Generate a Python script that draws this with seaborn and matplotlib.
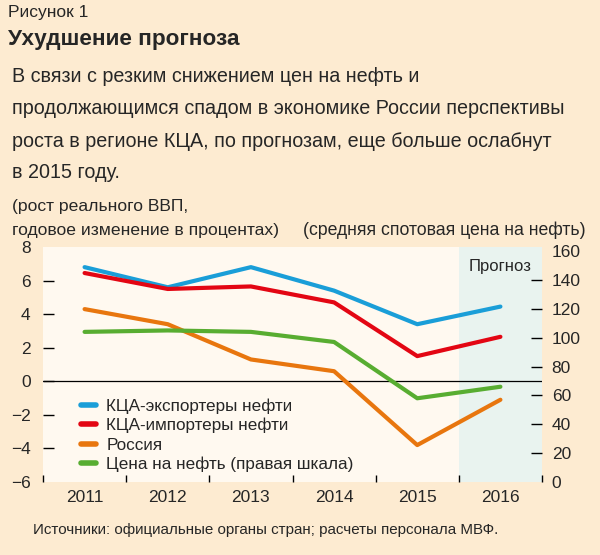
import numpy as np
import matplotlib
matplotlib.use("Agg")
import matplotlib.pyplot as plt
from matplotlib.lines import Line2D
import seaborn as sns
import pandas as pd

years = [2011, 2012, 2013, 2014, 2015, 2016]
exporters = [6.8, 5.6, 6.8, 5.4, 3.4, 4.45]
importers = [6.45, 5.5, 5.65, 4.7, 1.5, 2.65]
russia = [4.3, 3.4, 1.3, 0.6, -3.8, -1.1]
oil_price = [104, 105, 104, 97, 58, 66]

series_names = ["КЦА-экспортеры нефти", "КЦА-импортеры нефти", "Россия",
                "Цена на нефть (правая шкала)"]
colors = ["#1a9ed8", "#e30613", "#e8760e", "#58ad31"]

left_ticks = [-6, -4, -2, 0, 2, 4, 6, 8]
right_ticks = [0, 20, 40, 60, 80, 100, 120, 140, 160]

BG = "#fdebd1"
PLOT_BG = "#fff9f0"
SHADE = "#e9f3ef"

sns.set_style("white")
plt.rcParams['font.family'] = ['Liberation Sans', 'DejaVu Sans']

df = pd.DataFrame({"year": years, "exp": exporters, "imp": importers,
                   "rus": russia, "oil": oil_price})

fig = plt.figure(figsize=(6, 5.55), dpi=100, facecolor=BG)
ax = fig.add_axes([43 / 600, 1 - 482 / 555, (542 - 43) / 600, (482 - 247) / 555])
ax.set_facecolor(PLOT_BG)
ax.axvspan(2015.5, 2016.5, color=SHADE, zorder=0, lw=0)

lw = 3.0
for col, c in zip(["exp", "imp", "rus"], colors[:3]):
    sns.lineplot(data=df, x="year", y=col, ax=ax, color=c, lw=lw,
                 solid_capstyle="round", zorder=3)
ax.axhline(0, color="black", lw=0.9, zorder=2)

ax.set_xlim(2010.5, 2016.5)
ax.set_ylim(-6, 8)
# labels on major ticks, tick marks only on the inner values (minor ticks)
ax.yaxis.remove_overlapping_locs = False
ax.set_yticks(left_ticks)
ax.set_yticklabels([str(t).replace("-", "\u2212") for t in left_ticks], fontsize=12.5)
ax.set_yticks(left_ticks[1:-1], minor=True)
ax.set_xticks(years)
ax.set_xticklabels([str(y) for y in years], fontsize=12.5)
ax.set_xticks(np.arange(2010.5, 2017, 1), minor=True)
ax.tick_params(axis="x", which="major", length=0, pad=6)
ax.tick_params(axis="x", which="minor", direction="in", length=5, width=1,
               bottom=True, color="black")
ax.tick_params(axis="y", which="major", length=0, left=True, pad=9)
ax.tick_params(axis="y", which="minor", direction="in", length=8, width=1,
               left=True, color="black")
ax.set_xlabel("")
ax.set_ylabel("")
for s in ax.spines.values():
    s.set_visible(False)

ax2 = ax.twinx()
sns.lineplot(data=df, x="year", y="oil", ax=ax2, color=colors[3], lw=lw,
             solid_capstyle="round", zorder=3)
ax2.set_ylim(0, 162.8)
ax2.yaxis.remove_overlapping_locs = False
ax2.set_yticks(right_ticks)
ax2.set_yticklabels([str(t) for t in right_ticks], fontsize=12.5)
ax2.set_yticks(right_ticks[1:-1], minor=True)
ax2.tick_params(axis="y", which="major", length=0, right=True, pad=7)
ax2.tick_params(axis="y", which="minor", direction="in", length=8, width=1,
                right=True, color="black")
ax2.set_ylabel("")
for s in ax2.spines.values():
    s.set_visible(False)

ax.text(2016.0, 6.85, "Прогноз", fontsize=12, ha="center", va="center")

handles = [Line2D([], [], color=c, lw=4, solid_capstyle="round") for c in colors]
ax.legend(handles, series_names, loc="lower left", bbox_to_anchor=(0.062, 0.012),
          frameon=False, fontsize=12.3, handlelength=0.9, handletextpad=0.6,
          labelspacing=0.25, borderaxespad=0)

fig.text(8 / 600, 1 - 13 / 555, "Рисунок 1", fontsize=12.5, va="center")
fig.text(8 / 600, 1 - 40 / 555, "Ухудшение прогноза", fontsize=16.2,
         fontweight="bold", va="center")
body = ["В связи с резким снижением цен на нефть и",
        "продолжающимся спадом в экономике России перспективы",
        "роста в регионе КЦА, по прогнозам, еще больше ослабнут",
        "в 2015 году."]
for i, line in enumerate(body):
    fig.text(12 / 600, 1 - (77 + i * 32) / 555, line, fontsize=14.2, va="center")
fig.text(12 / 600, 1 - 207 / 555, "(рост реального ВВП,", fontsize=12.6, va="center")
fig.text(12 / 600, 1 - 230 / 555, "годовое изменение в процентах)", fontsize=12.6,
         va="center")
fig.text(586 / 600, 1 - 230 / 555, "(средняя спотовая цена на нефть)", fontsize=12.7,
         va="center", ha="right")
fig.text(33 / 600, 1 - 530 / 555,
         "Источники: официальные органы стран; расчеты персонала МВФ.",
         fontsize=10.9, va="center")

fig.savefig("out.png", dpi=100, facecolor=BG)
